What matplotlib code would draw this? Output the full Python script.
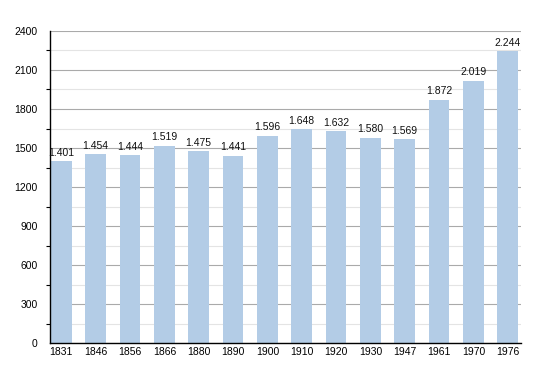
import numpy as np
import matplotlib.pyplot as plt
from matplotlib.ticker import MultipleLocator

plt.rcParams['font.family'] = ['Liberation Sans', 'DejaVu Sans']

years = ['1831', '1846', '1856', '1866', '1880', '1890', '1900',
         '1910', '1920', '1930', '1947', '1961', '1970', '1976']
population = [1401, 1454, 1444, 1519, 1475, 1441, 1596,
              1648, 1632, 1580, 1569, 1872, 2019, 2244]

fig = plt.figure(figsize=(5.5, 3.73), dpi=100)
ax = fig.add_axes([0.0909, 0.080, 0.856, 0.837])

x = np.arange(len(years))
ax.bar(x, population, width=0.6, color='#b3cce6', zorder=2)

for xi, v in zip(x, population):
    label = f'{v:,}'.replace(',', '.')
    ax.text(xi, v + 25, label, ha='center', va='bottom', fontsize=7.5, color='#111111')

ax.set_xlim(-0.33, 13.38)
ax.set_ylim(0, 2400)
ax.yaxis.set_major_locator(MultipleLocator(300))
ax.yaxis.set_minor_locator(MultipleLocator(150))
ax.grid(axis='y', which='major', color='#aaaaaa', linewidth=0.8, zorder=0)
ax.grid(axis='y', which='minor', color='#e4e4e4', linewidth=0.8, zorder=0)

ax.set_xticks(x)
ax.set_xticklabels(years)
ax.tick_params(axis='x', length=0, labelsize=7.5, pad=3)
ax.tick_params(axis='y', which='major', length=0, labelsize=7.5, pad=9)
ax.tick_params(axis='y', which='minor', length=3, width=0.8, direction='out')

for s in ['top', 'right']:
    ax.spines[s].set_visible(False)
ax.spines['left'].set_linewidth(1.0)
ax.spines['bottom'].set_linewidth(1.0)

fig.savefig('out.png', dpi=100)
